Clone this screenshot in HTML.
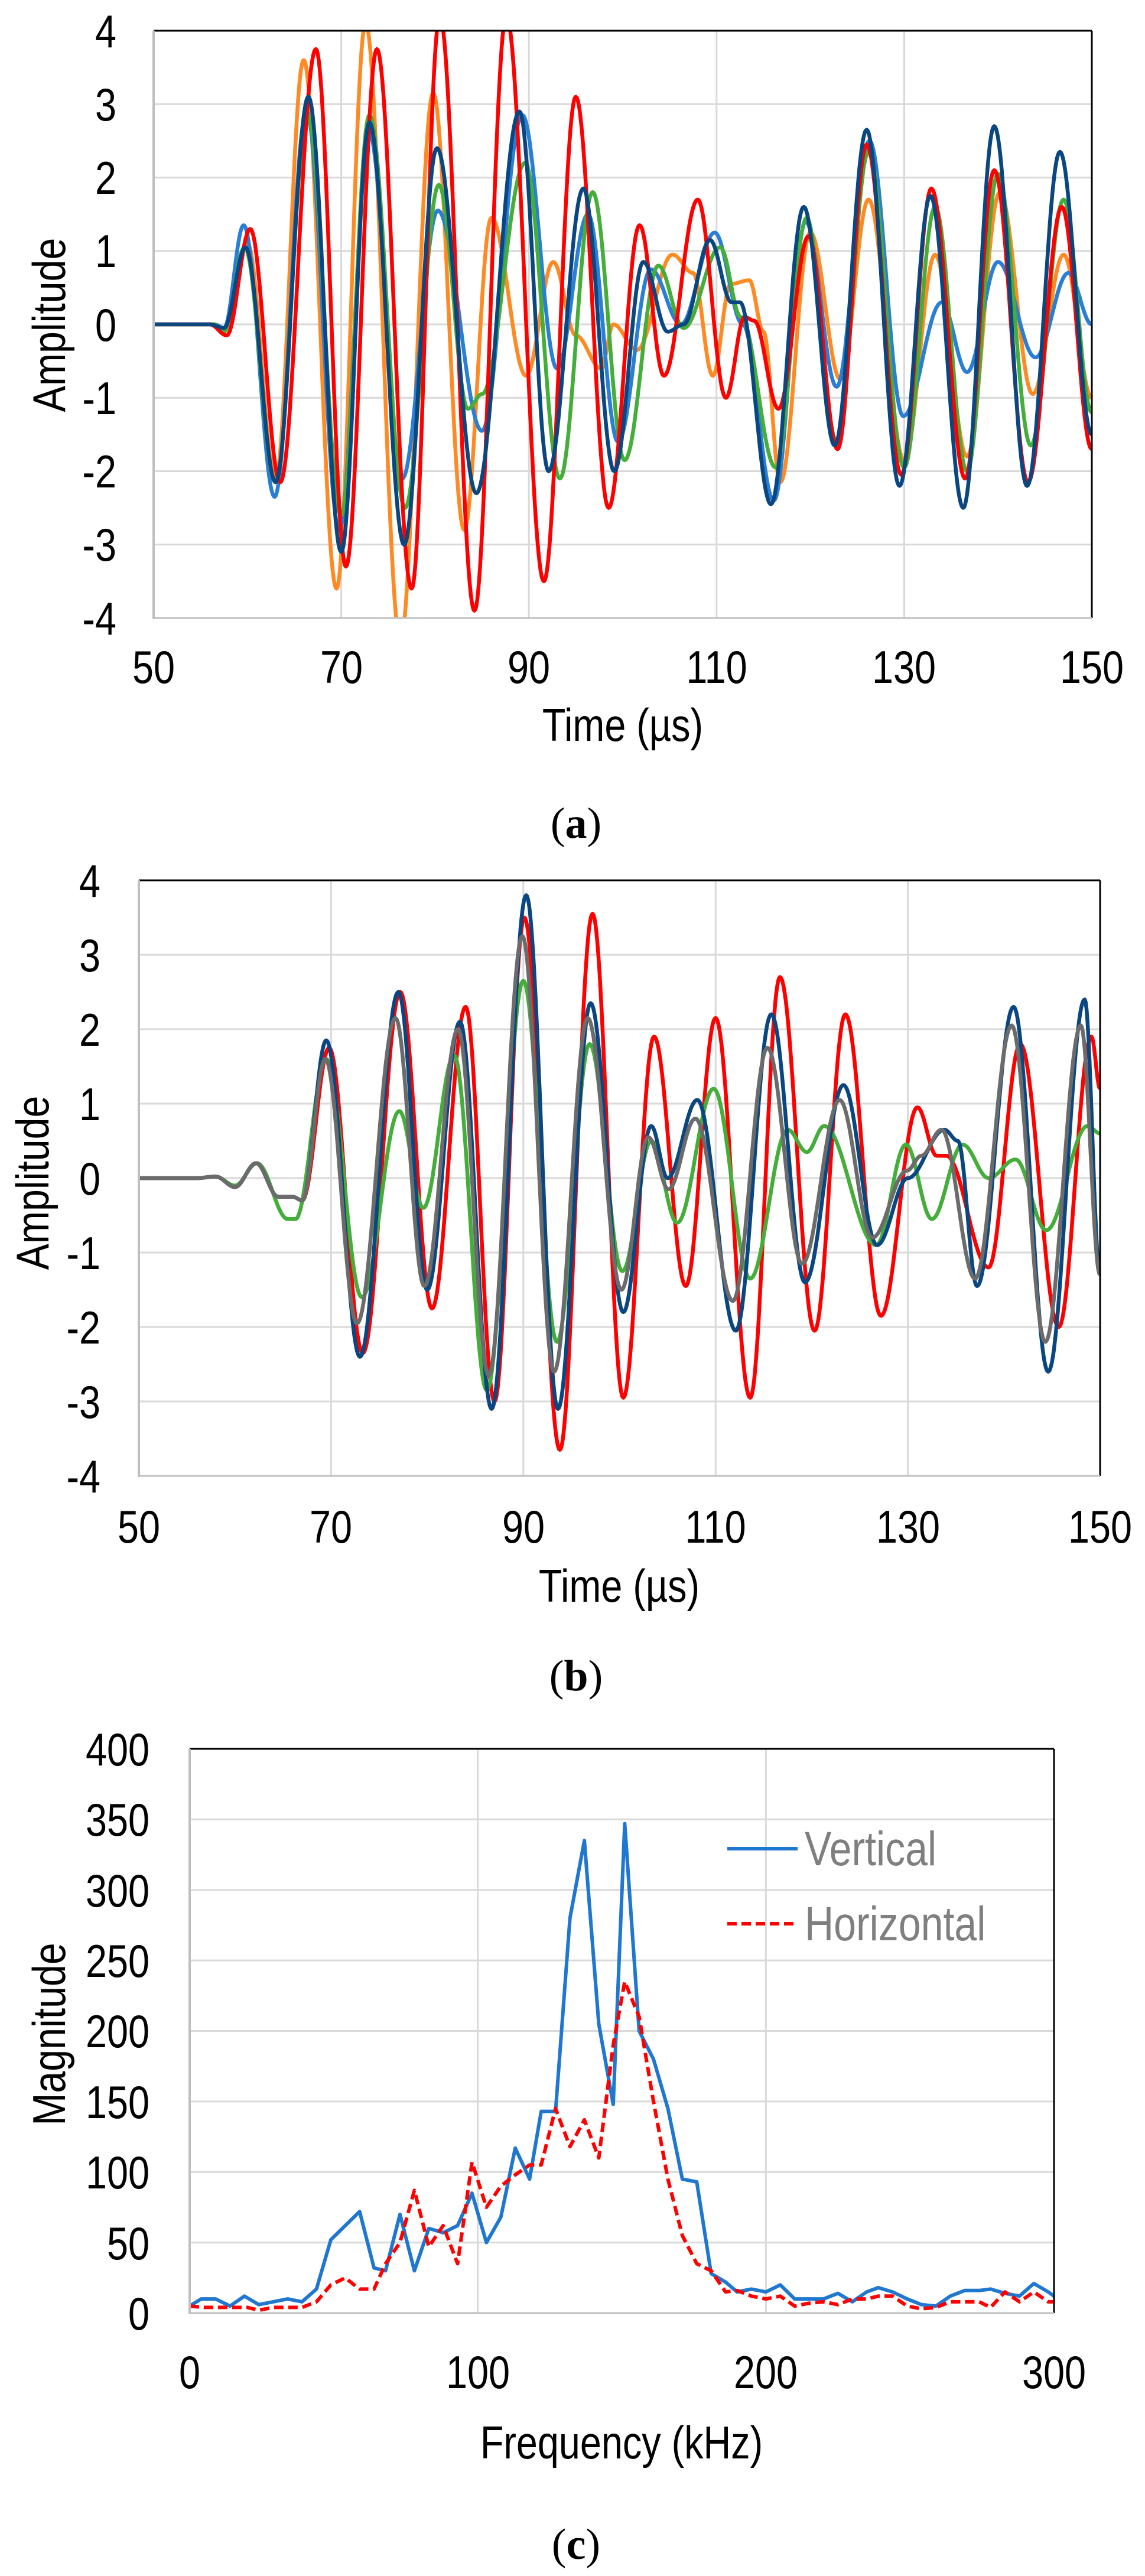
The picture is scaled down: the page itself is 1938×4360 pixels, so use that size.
<!DOCTYPE html>
<html><head><meta charset="utf-8"><style>
html,body{margin:0;padding:0;background:#fff;}
svg{display:block;}
text{font-family:"Liberation Sans",sans-serif;fill:#000;}
.t{font-size:78px;}
.cap{font-family:"Liberation Serif",serif;font-size:74px;}
</style></head><body>
<svg id="s" width="1938" height="4360" viewBox="0 0 1938 4360" xmlns="http://www.w3.org/2000/svg">
<defs>
<clipPath id="ca"><rect x="260" y="52" width="1588" height="994"/></clipPath>
<clipPath id="cb"><rect x="235" y="1490" width="1627" height="1008"/></clipPath>
<clipPath id="cc"><rect x="321" y="2960" width="1463" height="955"/></clipPath>
</defs>
<g id="ga"></g><g id="gb"></g><g id="gc"></g>

<g class="t" text-anchor="end">
<text x="197" y="80">4</text><text x="197" y="204">3</text><text x="197" y="328">2</text><text x="197" y="452">1</text><text x="197" y="577">0</text><text x="197" y="701">-1</text><text x="197" y="825">-2</text><text x="197" y="949">-3</text><text x="197" y="1074">-4</text>
</g>
<g class="t" text-anchor="middle">
<text x="260" y="1156">50</text><text x="578" y="1156">70</text><text x="895" y="1156">90</text><text x="1213" y="1156">110</text><text x="1530" y="1156">130</text><text x="1848" y="1156">150</text>
<text x="1054" y="1254">Time  (µs)</text>
<text class="r" x="110" y="550">Amplitude</text>
</g>
<text class="cap" x="975" y="1418" text-anchor="middle">(<tspan font-weight="bold">a</tspan>)</text>

<g class="t" text-anchor="end">
<text x="170" y="1518">4</text><text x="170" y="1644">3</text><text x="170" y="1770">2</text><text x="170" y="1896">1</text><text x="170" y="2022">0</text><text x="170" y="2148">-1</text><text x="170" y="2274">-2</text><text x="170" y="2400">-3</text><text x="170" y="2526">-4</text>
</g>
<g class="t" text-anchor="middle">
<text x="235" y="2611">50</text><text x="560" y="2611">70</text><text x="886" y="2611">90</text><text x="1211" y="2611">110</text><text x="1537" y="2611">130</text><text x="1862" y="2611">150</text>
<text x="1048" y="2711">Time  (µs)</text>
<text class="r" x="82" y="2002">Amplitude</text>
</g>
<text class="cap" x="975" y="2861" text-anchor="middle">(<tspan font-weight="bold">b</tspan>)</text>

<g class="t" text-anchor="end">
<text x="253" y="2988">400</text><text x="253" y="3107">350</text><text x="253" y="3227">300</text><text x="253" y="3346">250</text><text x="253" y="3465">200</text><text x="253" y="3585">150</text><text x="253" y="3704">100</text><text x="253" y="3824">50</text><text x="253" y="3943">0</text>
</g>
<g class="t" text-anchor="middle">
<text x="321" y="4042">0</text><text x="809" y="4042">100</text><text x="1296" y="4042">200</text><text x="1784" y="4042">300</text>
<text x="1052" y="4161">Frequency  (kHz)</text>
<text class="r" x="110" y="3443">Magnitude</text>
</g>
<text class="cap" x="975" y="4331" text-anchor="middle">(<tspan font-weight="bold">c</tspan>)</text>
<line x1="1231" y1="3129" x2="1350" y2="3129" stroke="#1f77d0" stroke-width="6"/>
<line x1="1231" y1="3256" x2="1350" y2="3256" stroke="#ff0000" stroke-width="6" stroke-dasharray="16,8"/>
<text class="lg" x="1362" y="3157" style="font-size:82px;fill:#7f7f7f">Vertical</text>
<text class="lg" x="1362" y="3284" style="font-size:82px;fill:#7f7f7f">Horizontal</text>
</svg>
<script>
var NS="http://www.w3.org/2000/svg";
/* condense text */
document.querySelectorAll('text').forEach(function(t){
  if(t.classList.contains('cap'))return;
  var x=+t.getAttribute('x'),y=+t.getAttribute('y');
  if(t.classList.contains('r')){
    t.setAttribute('x',0);t.setAttribute('y',0);
    t.setAttribute('transform','translate('+x+','+y+') rotate(-90) scale(0.85,1)');
  } else {
    t.setAttribute('transform','translate('+x+','+y+') scale(0.83,1) translate('+(-x)+','+(-y)+')');
  }
});
function el(g,tag,attrs){var e=document.createElementNS(NS,tag);for(var k in attrs)e.setAttribute(k,attrs[k]);g.appendChild(e);return e;}
function frame(g,L,R,T,B,xs,ys){
  xs.forEach(function(x){el(g,'line',{x1:x,x2:x,y1:T,y2:B,stroke:'#d9d9d9','stroke-width':3});});
  ys.forEach(function(y){el(g,'line',{x1:L,x2:R,y1:y,y2:y,stroke:'#d9d9d9','stroke-width':3});});
}
function border(g,L,R,T,B){
  el(g,'line',{x1:L,x2:R,y1:T,y2:T,stroke:'#000','stroke-width':3});
  el(g,'line',{x1:R,x2:R,y1:T,y2:B,stroke:'#000','stroke-width':3});
  el(g,'line',{x1:L,x2:R,y1:B,y2:B,stroke:'#bfbfbf','stroke-width':3});
  el(g,'line',{x1:L,x2:L,y1:T,y2:B+2,stroke:'#bfbfbf','stroke-width':4});
}
function cosPath(pts,X,Y){
  var d='';
  for(var i=0;i<pts.length-1;i++){
    var a=pts[i],b=pts[i+1],n=Math.max(2,Math.ceil((b[0]-a[0])*10));
    for(var j=(i==0?0:1);j<=n;j++){
      var f=j/n,t=a[0]+(b[0]-a[0])*f,v=a[1]+(b[1]-a[1])*(1-Math.cos(Math.PI*f))/2;
      d+=(d?'L':'M')+X(t).toFixed(1)+','+Y(v).toFixed(1);
    }
  }
  return d;
}
function linPath(pts,X,Y){return pts.map(function(p,i){return (i?'L':'M')+X(p[0]).toFixed(1)+','+Y(p[1]).toFixed(1);}).join('');}

(function(){
var g=document.getElementById('ga'),L=260,R=1848,T=52,B=1046;
var X=function(t){return L+(t-50)*(R-L)/100;},Y=function(v){return T+(4-v)*(B-T)/8;};
frame(g,L,R,T,B,[70,90,110,130].map(X),[3,2,1,0,-1,-2,-3].map(Y));
var cg=el(g,'g',{'clip-path':'url(#ca)'});
var S={
orange:[[50,0],[56,0],[57.5,-0.05],[60,1.1],[63,-2.1],[66,3.6],[69.5,-3.6],[72.6,4.1],[76.3,-4.3],[79.8,3.15],[83.1,-2.8],[86,1.45],[89.7,-0.7],[92.6,0.85],[95,-0.15],[97.7,-0.6],[99,0],[101.5,-0.35],[105.3,0.95],[107.5,0.7],[109.6,-0.7],[111.5,0.55],[113.5,0.6],[115,-0.1],[116.8,-2.15],[120,1.25],[123.2,-0.75],[126.2,1.7],[130,-1.85],[133.3,0.95],[136.7,-1.8],[140.2,1.8],[143.7,-0.95],[147,0.95],[150,-1.0]],
blue:[[50,0],[56.5,0],[57.5,-0.05],[59.6,1.35],[62.9,-2.35],[66.3,2.9],[69.8,-2.8],[73,2.6],[76.5,-2.1],[80.3,1.55],[85,-1.45],[89.3,2.85],[93,-0.6],[96.3,1.5],[99.5,-1.6],[103,0.75],[106.2,0.0],[109.8,1.25],[112.8,0.0],[116.1,-2.4],[119.5,1.4],[122.8,-0.85],[126.3,2.5],[129.9,-1.25],[134,0.3],[136.7,-0.65],[140,0.85],[144,-0.45],[147.5,0.7],[150,0.0]],
green:[[50,0],[56.5,0],[57.5,-0.1],[59.7,1.05],[63,-2.15],[66.4,2.85],[70,-2.6],[73,2.85],[76.8,-2.5],[80.4,1.9],[83.5,-1.15],[85,-0.95],[89.6,2.2],[93.3,-2.1],[96.8,1.8],[100.2,-1.85],[103.8,0.8],[106.5,-0.05],[110.4,1.05],[112.6,0.1],[116.3,-1.95],[119.6,1.45],[122.8,-1.6],[126.2,2.35],[130,-1.95],[133.3,1.6],[136.7,-2.0],[140,2.05],[143.5,-1.65],[147,1.7],[150,-1.2]],
red:[[50,0],[56,0],[57.8,-0.15],[60.3,1.3],[63.5,-2.15],[67.3,3.75],[70.5,-3.3],[73.8,3.75],[77.5,-3.6],[80.5,4.2],[84.2,-3.9],[87.6,4.2],[91.6,-3.5],[95,3.1],[98.5,-2.5],[101.8,1.35],[104.4,-0.7],[108,1.7],[111,-1.0],[113,0.1],[114,0.05],[116.6,-1.15],[119.8,1.2],[122.9,-1.7],[126,2.45],[129.7,-2.05],[132.9,1.85],[136.5,-2.1],[139.6,2.1],[143.2,-2.15],[146.8,1.6],[150,-1.7]],
navy:[[50,0],[56,0],[57.5,-0.05],[59.8,1.05],[63,-2.15],[66.5,3.1],[70,-3.1],[73,2.75],[76.7,-3.0],[80.2,2.4],[84.4,-2.3],[89,2.9],[92.1,-2.0],[95.8,1.85],[99.1,-2.0],[102.2,0.85],[104.8,-0.1],[106.5,0.0],[109.3,1.15],[111.6,0.3],[112.5,0.3],[115.8,-2.45],[119.3,1.6],[122.6,-1.65],[126,2.65],[129.5,-2.2],[132.8,1.75],[136.3,-2.5],[139.6,2.7],[143.1,-2.2],[146.6,2.35],[150,-1.5]]
};
var C={orange:'#ff8a24',blue:'#2a7fd4',green:'#45ad3a',red:'#ff0000',navy:'#0a4780'};
['orange','blue','green','red','navy'].forEach(function(k){el(cg,'path',{d:cosPath(S[k],X,Y),fill:'none',stroke:C[k],'stroke-width':6.5,'stroke-linejoin':'round'});});
border(g,L,R,T,B);
})();

(function(){
var g=document.getElementById('gb'),L=235,R=1862,T=1490,B=2498;
var X=function(t){return L+(t-50)*(R-L)/100;},Y=function(v){return T+(4-v)*(B-T)/8;};
frame(g,L,R,T,B,[70,90,110,130].map(X),[3,2,1,0,-1,-2,-3].map(Y));
var cg=el(g,'g',{'clip-path':'url(#cb)'});
var pre=[[50,0],[56,0],[58,0.02],[60,-0.12],[62.2,0.2],[64.5,-0.25],[66,-0.25],[67,-0.3]];
var S={
red:pre.concat([[69.8,1.75],[73.3,-2.35],[77.2,2.5],[80.5,-1.75],[84,2.3],[87,-3.0],[90.1,3.5],[93.8,-3.65],[97.2,3.55],[100.4,-2.95],[103.6,1.9],[106.9,-1.45],[110,2.15],[113.6,-2.95],[116.7,2.7],[120.3,-2.05],[123.5,2.2],[127.2,-1.85],[131,0.95],[133,0.3],[134,0.3],[138.4,-1.2],[141.7,1.8],[145.7,-2.0],[149.1,1.9],[150,1.2]]),
green:[[50,0],[56,0],[58,0.02],[60,-0.1],[62.3,0.2],[65.5,-0.55],[66.3,-0.55],[69.5,1.6],[73.2,-1.6],[77.1,0.9],[79.6,-0.4],[82.8,1.65],[86.2,-2.85],[90,2.65],[93.5,-2.2],[96.9,1.8],[100.3,-1.25],[103.3,0.5],[106,-0.6],[109.8,1.2],[113.6,-1.35],[117.5,0.65],[119.5,0.35],[121.3,0.7],[126.7,-0.9],[129.8,0.45],[132.5,-0.55],[135.7,0.45],[138.4,0.0],[141.2,0.25],[144.4,-0.7],[148.7,0.7],[150,0.6]],
navy:pre.concat([[69.5,1.85],[73,-2.4],[77,2.5],[80,-1.5],[83.4,2.1],[86.7,-3.1],[90.3,3.8],[93.6,-3.1],[97,2.35],[100.4,-1.8],[103.3,0.7],[105,0.0],[108.1,1.05],[112.1,-2.05],[115.8,2.2],[119.3,-1.4],[123.3,1.25],[126.8,-0.9],[130,0],[133.8,0.65],[135.2,0.5],[137.2,-1.45],[141,2.3],[144.6,-2.6],[148.4,2.4],[150,-1.3]]),
gray:pre.concat([[69.4,1.6],[72.7,-1.95],[76.7,2.15],[79.7,-1.45],[83.2,2.0],[86.4,-2.65],[89.9,3.25],[93.2,-2.6],[96.7,2.15],[100.2,-1.5],[103,0.55],[105.1,-0.15],[107.9,0.8],[111.8,-1.65],[115.4,1.75],[119,-1.15],[122.9,1.05],[126.3,-0.8],[129.9,0.1],[131.4,0.3],[133.5,0.65],[137,-1.35],[140.8,2.05],[144.3,-2.2],[148,2.05],[150,-1.3]])
};
var C={red:'#ff0000',green:'#45ad3a',navy:'#0a4780',gray:'#6b6b6b'};
['red','green','navy','gray'].forEach(function(k){el(cg,'path',{d:cosPath(S[k],X,Y),fill:'none',stroke:C[k],'stroke-width':6.5,'stroke-linejoin':'round'});});
border(g,L,R,T,B);
})();

(function(){
var g=document.getElementById('gc'),L=321,R=1784,T=2960,B=3915;
var X=function(f){return L+f*(R-L)/300;},Y=function(v){return B-v*(B-T)/400;};
frame(g,L,R,T,B,[100,200].map(X),[350,300,250,200,150,100,50].map(Y));
var cg=el(g,'g',{'clip-path':'url(#cc)'});
var V=[[0,5],[4,10],[9,10],[14,5],[19,12],[24,6],[29,8],[34,10],[39,8],[44,17],[49,52],[54,62],[59,72],[64,32],[68,30],[73,70],[78,30],[83,60],[88,57],[93,62],[98,85],[103,50],[108,68],[113,117],[118,95],[122,143],[127,143],[132,280],[137,335],[142,205],[147,148],[151,347],[156,200],[161,180],[166,145],[171,95],[176,93],[181,28],[186,22],[190,15],[195,17],[200,15],[205,20],[210,10],[215,10],[220,10],[225,14],[230,8],[235,15],[239,18],[244,15],[249,10],[254,6],[259,5],[264,12],[269,16],[274,16],[278,17],[283,14],[288,12],[293,21],[298,15],[300,12]];
var H=[[0,5],[5,4],[10,4],[20,4],[24,2],[29,4],[39,4],[44,8],[49,20],[54,25],[59,17],[64,17],[68,35],[73,50],[78,87],[83,47],[88,62],[93,35],[98,107],[103,75],[108,90],[113,98],[118,105],[122,105],[127,145],[132,118],[137,137],[142,110],[147,190],[151,235],[156,210],[161,150],[166,95],[171,55],[176,35],[181,30],[186,15],[190,16],[195,12],[200,10],[205,12],[210,5],[215,7],[220,8],[225,6],[230,10],[235,10],[239,12],[244,12],[249,5],[254,3],[259,4],[264,8],[269,8],[274,8],[278,4],[283,15],[288,8],[293,15],[298,8],[300,8]];
el(cg,'path',{d:linPath(V,X,Y),fill:'none',stroke:'#1f77d0','stroke-width':6,'stroke-linejoin':'round'});
el(cg,'path',{d:linPath(H,X,Y),fill:'none',stroke:'#ff0000','stroke-width':6,'stroke-dasharray':'16,8','stroke-linejoin':'round'});
border(g,L,R,T,B);
})();
</script>
</body></html>
